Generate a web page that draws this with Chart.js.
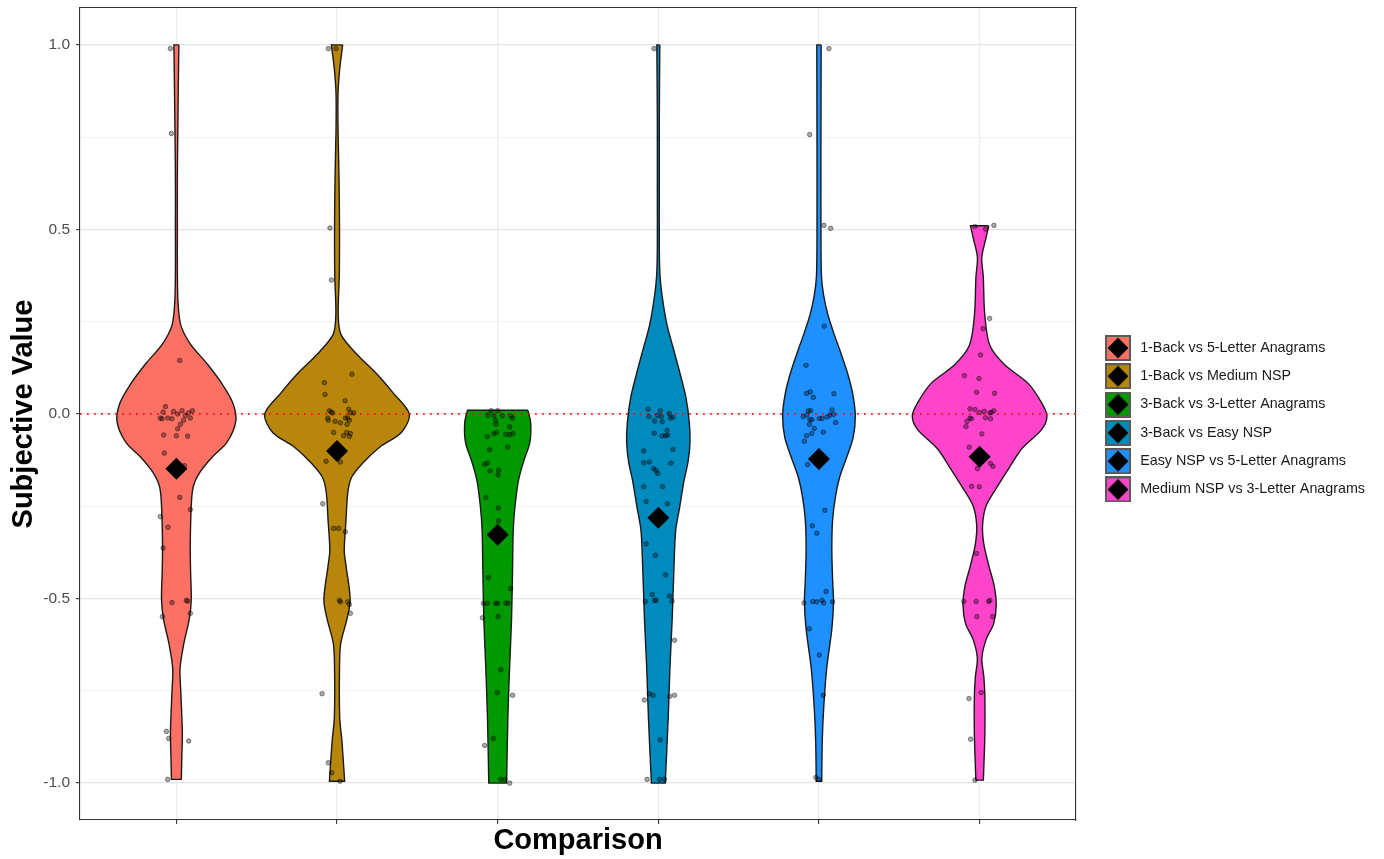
<!DOCTYPE html>
<html>
<head>
<meta charset="utf-8">
<script src="https://cdn.jsdelivr.net/npm/chart.js@4.4.1/dist/chart.umd.min.js"></script>
<style>
  html, body { margin: 0; padding: 0; background: #ffffff; }
  canvas { display: block; }
</style>
</head>
<body>
<canvas id="violins" width="1384" height="859"></canvas>
<script>
// ---- data -------------------------------------------------------------
const categories = [
  '1-Back vs 5-Letter Anagrams',
  '1-Back vs Medium NSP',
  '3-Back vs 3-Letter Anagrams',
  '3-Back vs Easy NSP',
  'Easy NSP vs 5-Letter Anagrams',
  'Medium NSP vs 3-Letter Anagrams'
];
const fillColors = ['#FD7064', '#B8860B', '#009900', '#008BBF', '#1E90FF', '#FF44CC'];

// group means (diamonds)
const meanValues = [-0.148, -0.100, -0.327, -0.281, -0.122, -0.116];

// y-axis ticks (majors labelled, quarter steps as minor grid)
const yTickValues = [-1, -0.75, -0.5, -0.25, 0, 0.25, 0.5, 0.75, 1];
const yTickLabels = ['-1.0', '', '-0.5', '', '0.0', '', '0.5', '', '1.0'];

// kernel density profiles per group: evaluation levels (top to bottom) and relative density
const densityY1 = [1.0, 0.9, 0.78, 0.65, 0.5, 0.38, 0.3, 0.24, 0.19, 0.136, 0.082, 0.03, -0.02, -0.077, -0.117, -0.157, -0.197, -0.25, -0.356, -0.423, -0.503, -0.556, -0.622, -0.689, -0.755, -0.862, -0.928, -0.99];
const densityD1 = [2.5, 2, 1.5, 1, 1, 1, 1.7, 4.5, 14, 31, 46, 57, 60, 51, 36, 24, 17, 15, 14, 14.3, 15, 13, 7.5, 3.7, 4.5, 6, 5.5, 5];

const densityY2 = [1.0, 0.934, 0.867, 0.774, 0.641, 0.508, 0.375, 0.269, 0.215, 0.162, 0.109, 0.056, 0, -0.05, -0.09, -0.13, -0.17, -0.21, -0.29, -0.37, -0.41, -0.503, -0.556, -0.622, -0.689, -0.822, -0.888, -0.995];
const densityD2 = [5.7, 2.7, 1, 1, 2, 2.5, 2.3, 1.2, 4, 20, 40, 57, 73, 65, 43, 27, 15, 11, 9, 7.3, 9, 13.3, 10, 3.7, 2.5, 2.7, 5, 7.7];

const densityY3 = [0.01, -0.024, -0.077, -0.13, -0.18, -0.25, -0.316, -0.423, -0.556, -0.689, -0.822, -1.0];
const densityD3 = [30.5, 33.3, 32.5, 26, 21, 17.5, 15.7, 15, 14, 12, 10.3, 9];

const densityY4 = [1.0, 0.8, 0.6, 0.45, 0.375, 0.322, 0.242, 0.176, 0.109, 0.043, -0.024, -0.077, -0.13, -0.18, -0.25, -0.316, -0.423, -0.556, -0.689, -0.822, -1.0];
const densityD4 = [1.5, 1, 1, 1, 1.7, 3.7, 8.7, 15.3, 22, 28, 31.3, 32, 30, 26, 21.7, 17.5, 15.7, 14, 11.7, 10, 7];

const densityY5 = [1.0, 0.75, 0.5, 0.375, 0.322, 0.269, 0.215, 0.162, 0.109, 0.056, -0.004, -0.064, -0.117, -0.17, -0.223, -0.29, -0.37, -0.45, -0.51, -0.582, -0.689, -0.795, -0.888, -0.995];
const densityD5 = [2.2, 2, 2, 2.5, 4.7, 9, 15.5, 22.5, 29, 34, 36.7, 34.5, 28, 21, 16.7, 13.7, 13, 13.8, 14.7, 13, 7.8, 4.8, 3.3, 2.8];

const densityY6 = [0.51, 0.475, 0.424, 0.372, 0.269, 0.186, 0.134, 0.083, 0.031, -0.005, -0.041, -0.093, -0.145, -0.196, -0.248, -0.3, -0.351, -0.413, -0.465, -0.517, -0.568, -0.61, -0.661, -0.713, -0.764, -0.868, -0.992];
const densityD6 = [9.2, 6.3, 2.2, 3.7, 5.2, 10.3, 25, 49, 62.5, 68, 63, 43, 30, 18, 6.7, 3, 4.2, 9.5, 14.7, 16.8, 14.2, 6.7, 2.3, 4.3, 5.3, 5.3, 3.8];

// individual observations: [horizontal jitter, value]
const jitter1 = [[-0.037,0.99],[-0.031,0.76],[0.021,0.145],[-0.068,0.02],[-0.083,0.005],[-0.1,-0.011],[-0.089,-0.013],[-0.054,-0.011],[-0.027,-0.013],[-0.017,0.007],[0.008,0],[0.035,0.009],[0.056,-0.004],[0.077,0.003],[0.1,0.009],[0.087,-0.011],[0.045,-0.017],[0.025,-0.028],[0.008,-0.04],[0,-0.059],[0.07,-0.06],[-0.079,-0.057],[-0.075,-0.106],[0.05,-0.14],[0.021,-0.226],[-0.1,-0.278],[0.087,-0.259],[-0.052,-0.307],[-0.083,-0.363],[-0.027,-0.511],[0.062,-0.505],[0.07,-0.507],[-0.087,-0.549],[0.087,-0.54],[-0.062,-0.86],[-0.048,-0.879],[0.077,-0.886],[-0.054,-0.99]];
const jitter2 = [[-0.054,0.99],[-0.006,0.99],[-0.044,0.504],[-0.035,0.363],[0.093,0.108],[-0.079,0.085],[-0.075,0.053],[0.05,0.036],[-0.048,0.009],[-0.037,0.005],[-0.027,0.003],[-0.058,-0.011],[-0.054,-0.017],[-0.012,-0.02],[0.021,-0.024],[0.052,-0.011],[0.073,0.013],[0.083,0.003],[0.104,0.003],[0.066,-0.011],[0.077,-0.017],[0.062,-0.028],[0.041,-0.059],[0.06,-0.05],[0.083,-0.053],[0.077,-0.061],[-0.021,-0.05],[-0.068,-0.128],[0.021,-0.13],[-0.089,-0.243],[-0.021,-0.31],[0.01,-0.31],[0.052,-0.319],[0.015,-0.505],[0.021,-0.509],[0.066,-0.509],[0.077,-0.516],[0.083,-0.54],[-0.093,-0.758],[-0.054,-0.945],[-0.033,-0.972],[0.019,-0.995]];
const jitter3 = [[-0.041,0.009],[0,0.009],[-0.06,-0.003],[-0.023,-0.005],[0.029,-0.005],[0.081,-0.005],[0.093,-0.011],[-0.012,-0.017],[-0.01,-0.028],[0.075,-0.035],[-0.023,-0.053],[-0.006,-0.05],[0.05,-0.055],[0.075,-0.056],[0.095,-0.053],[-0.064,-0.061],[-0.05,-0.097],[0.062,-0.09],[-0.064,-0.133],[-0.081,-0.136],[-0.048,-0.154],[0.006,-0.152],[0.002,-0.165],[-0.073,-0.226],[0.004,-0.255],[0.006,-0.29],[-0.058,-0.443],[0.081,-0.473],[-0.089,-0.513],[-0.064,-0.513],[-0.012,-0.513],[0,-0.513],[0.05,-0.512],[0.066,-0.513],[-0.095,-0.552],[0.002,-0.549],[0.019,-0.693],[-0.002,-0.755],[0.093,-0.762],[-0.027,-0.879],[-0.081,-0.898],[0.019,-0.99],[0.045,-0.99],[0.075,-1.0]];
const jitter4 = [[-0.027,0.99],[-0.064,0.013],[0.012,0.009],[0.068,0.001],[-0.058,-0.007],[-0.004,-0.004],[0.019,-0.007],[0.075,-0.011],[0.091,-0.009],[-0.023,-0.019],[0.025,-0.021],[0.054,-0.044],[0.045,-0.059],[0.058,-0.057],[0.023,-0.059],[-0.025,-0.052],[0.091,-0.096],[-0.091,-0.1],[-0.091,-0.132],[-0.056,-0.13],[0.079,-0.133],[-0.029,-0.148],[-0.014,-0.153],[-0.004,-0.161],[-0.091,-0.197],[0.027,-0.197],[-0.075,-0.237],[0.056,-0.243],[-0.075,-0.352],[-0.019,-0.383],[0.045,-0.436],[-0.037,-0.489],[-0.023,-0.505],[-0.014,-0.505],[-0.081,-0.508],[0.07,-0.493],[0.085,-0.507],[0.101,-0.613],[-0.056,-0.758],[-0.033,-0.762],[0.07,-0.765],[0.101,-0.762],[-0.087,-0.775],[0.012,-0.883],[-0.07,-0.99],[0.008,-0.99],[0.039,-0.99]];
const jitter5 = [[0.062,0.99],[-0.058,0.757],[0.031,0.511],[0.073,0.503],[0.033,0.238],[-0.081,0.132],[-0.077,0.056],[-0.054,0.06],[-0.035,0.045],[0.093,0.055],[-0.066,0.009],[-0.052,0.009],[-0.077,-0.003],[-0.098,-0.007],[-0.056,-0.015],[-0.044,-0.015],[-0.06,-0.028],[0.002,-0.012],[0.019,-0.012],[0.05,-0.008],[0.068,-0.003],[0.081,0.011],[0.091,-0.001],[0.104,-0.023],[-0.029,-0.039],[-0.045,-0.053],[-0.077,-0.059],[-0.091,-0.074],[0.027,-0.049],[-0.07,-0.137],[0.037,-0.261],[-0.041,-0.303],[-0.014,-0.323],[-0.093,-0.512],[-0.039,-0.508],[-0.014,-0.509],[0.019,-0.505],[0.029,-0.512],[0.044,-0.481],[0.085,-0.509],[-0.06,-0.582],[0.002,-0.653],[0.027,-0.762],[-0.019,-0.985],[0,-0.99]];
const jitter6 = [[-0.029,0.508],[0.037,0.501],[0.089,0.511],[0.062,0.259],[0.021,0.231],[0.006,0.16],[-0.095,0.104],[-0.004,0.096],[-0.019,0.059],[0.093,0.056],[-0.06,0.014],[-0.029,0.012],[0,0.004],[0.029,0.007],[0.064,0.003],[0.073,0.004],[0.089,0.009],[-0.06,-0.011],[-0.05,-0.013],[0.037,-0.01],[0.068,-0.013],[-0.079,-0.02],[-0.085,-0.034],[0.014,-0.054],[-0.064,-0.09],[-0.014,-0.148],[0.068,-0.134],[0.083,-0.142],[-0.05,-0.196],[-0.002,-0.197],[-0.019,-0.378],[-0.098,-0.508],[-0.021,-0.508],[0.056,-0.508],[0.064,-0.505],[-0.017,-0.549],[0.081,-0.549],[0.01,-0.755],[-0.066,-0.771],[-0.056,-0.881],[-0.029,-0.992]];

// ---- assembly ---------------------------------------------------------
const profiles = [
  [densityY1, densityD1], [densityY2, densityD2], [densityY3, densityD3],
  [densityY4, densityD4], [densityY5, densityD5], [densityY6, densityD6]
];
const jitterSets = [jitter1, jitter2, jitter3, jitter4, jitter5, jitter6];

// violins share one density scale; the widest one spans 0.9 of a category slot
const VIOLIN_HALF = 0.45;
const maxDensity = Math.max(...profiles.flatMap(p => p[1]));

// closed outline: right edge top->bottom, flat bottom, left edge bottom->top, flat top.
// Corner vertices are repeated so the smoothing keeps the trimmed ends square.
function violinOutline(i) {
  const [ys, ds] = profiles[i];
  const c = i + 1;
  const hw = ds.map(d => VIOLIN_HALF * d / maxDensity);
  const n = ys.length;
  const right = ys.map((y, k) => ({ x: c + hw[k], y }));
  const left = ys.map((y, k) => ({ x: c - hw[k], y })).reverse();
  return [
    ...right,
    { ...right[n - 1] },
    { ...left[0] },
    ...left,
    { ...left[n - 1] },
    { ...right[0] }
  ];
}

// legend key: filled square with the mean diamond on top
function legendKey(color) {
  const cv = document.createElement('canvas');
  cv.width = 26; cv.height = 26;
  const g = cv.getContext('2d');
  g.fillStyle = color;
  g.fillRect(1, 1, 24, 24);
  g.strokeStyle = '#5a5a5a';
  g.lineWidth = 2;
  g.strokeRect(1, 1, 24, 24);
  g.fillStyle = '#000000';
  g.beginPath();
  g.moveTo(13, 2.6); g.lineTo(23.4, 13); g.lineTo(13, 23.4); g.lineTo(2.6, 13);
  g.closePath();
  g.fill();
  return cv;
}
const legendKeys = fillColors.map(legendKey);

const violinDatasets = categories.map((name, i) => ({
  type: 'line',
  label: name,
  data: violinOutline(i),
  backgroundColor: fillColors[i],
  borderColor: '#1a1a1a',
  borderWidth: 1.4,
  fill: 'shape',
  tension: 0.3,
  pointRadius: 0,
  pointHoverRadius: 0,
  order: 3
}));

const zeroLine = {
  type: 'line',
  label: 'zero',
  data: [{ x: 0.4, y: 0 }, { x: 6.6, y: 0 }],
  borderColor: '#ff0000',
  borderWidth: 1.6,
  borderDash: [1.8, 5.2],
  pointRadius: 0,
  fill: false,
  order: 2
};

const observations = {
  type: 'line',
  label: 'observations',
  showLine: false,
  data: jitterSets.flatMap((pts, i) => pts.map(([dx, y]) => ({ x: i + 1 + dx, y }))),
  pointRadius: 2.3,
  pointBackgroundColor: 'rgba(0,0,0,0.34)',
  pointBorderColor: 'rgba(0,0,0,0.5)',
  pointBorderWidth: 0.8,
  order: 1
};

const means = {
  type: 'line',
  label: 'mean',
  showLine: false,
  data: meanValues.map((m, i) => ({ x: i + 1, y: m })),
  pointStyle: 'rectRot',
  pointRadius: 11,
  pointBackgroundColor: '#000000',
  pointBorderColor: '#000000',
  pointBorderWidth: 0,
  order: 0
};

const FONT = "'Liberation Sans', Arial, Helvetica, sans-serif";
Chart.defaults.font.family = FONT;

// panel box in page pixels
const PLOT_RIGHT = 1076;
const PLOT_TOP = 8;
let topBand = 8;

const isMajor = v => Boolean(yTickLabels[yTickValues.indexOf(v)]);

const chart = new Chart(document.getElementById('violins'), {
  type: 'line',
  data: { datasets: [...violinDatasets, zeroLine, observations, means] },
  options: {
    responsive: false,
    animation: false,
    devicePixelRatio: 1,
    layout: { autoPadding: false, padding: { left: 0, top: 0, right: 20, bottom: 0 } },
    plugins: {
      tooltip: { enabled: false },
      legend: {
        position: 'right',
        fullSize: false,
        maxWidth: 330,
        onClick: () => {},
        title: { display: true, text: '', font: { size: 9.4, lineHeight: 1 }, padding: 0 },
        labels: {
          usePointStyle: true,
          pointStyleWidth: 30,
          padding: 14,
          color: '#1a1a1a',
          font: { size: 14.3, family: FONT },
          generateLabels: () => categories.map((name, i) => ({
            text: name,
            pointStyle: legendKeys[i],
            rotation: 0,
            fillStyle: fillColors[i],
            strokeStyle: '#000000',
            fontColor: '#1a1a1a',
            lineWidth: 0,
            hidden: false,
            datasetIndex: i
          }))
        }
      }
    },
    scales: {
      x: {
        type: 'linear',
        position: 'bottom',
        min: 0.4,
        max: 6.6,
        afterBuildTicks: s => { s.ticks = categories.map((_, i) => ({ value: i + 1 })); },
        afterFit: s => { s.height = 39; s.paddingLeft = 0; s.paddingRight = 0; },
        ticks: { display: false, autoSkip: false },
        grid: { color: '#ebebeb', lineWidth: 1.2, tickColor: '#333333', tickLength: 4, tickWidth: 1.1 },
        border: { display: true, color: '#333333', width: 1.1 },
        title: {
          display: true,
          text: 'Comparison',
          color: '#000000',
          font: { size: 29, weight: 'bold', family: FONT },
          padding: { top: 0, bottom: 0.5 }
        }
      },
      y: {
        type: 'linear',
        position: 'left',
        min: -1.1,
        max: 1.1,
        afterBuildTicks: s => { s.ticks = yTickValues.map(v => ({ value: v })); },
        afterFit: s => { s.width = 80; s.paddingTop = 0; s.paddingBottom = 0; },
        ticks: {
          autoSkip: false,
          color: '#4d4d4d',
          padding: 6,
          font: { size: 15.5, family: FONT },
          callback: (value) => {
            const k = yTickValues.findIndex(v => Math.abs(v - value) < 1e-9);
            return k >= 0 ? yTickLabels[k] : '';
          }
        },
        grid: {
          color: c => (isMajor(c.tick.value) ? '#e4e4e4' : '#f0f0f0'),
          lineWidth: c => (isMajor(c.tick.value) ? 1.2 : 0.9),
          tickColor: c => (isMajor(c.tick.value) ? '#333333' : 'rgba(0,0,0,0)'),
          tickLength: 4,
          tickWidth: 1.1
        },
        border: { display: true, color: '#333333', width: 1.1 },
        title: {
          display: true,
          text: 'Subjective Value',
          color: '#000000',
          font: { size: 29, weight: 'bold', family: FONT },
          padding: { top: 6.6, bottom: 0 }
        }
      },
      xTop: {
        type: 'linear',
        position: 'top',
        display: true,
        min: 0, max: 1,
        afterFit: s => { s.height = topBand; s.paddingLeft = 0; s.paddingRight = 0; },
        ticks: { display: false },
        grid: { display: true, drawOnChartArea: false, drawTicks: false },
        border: { display: true, color: '#333333', width: 1.1 }
      },
      yRight: {
        type: 'linear',
        position: 'right',
        display: true,
        min: 0, max: 1,
        afterFit: s => { s.width = 13; s.paddingTop = 0; s.paddingBottom = 0; },
        ticks: { display: false },
        grid: { display: true, drawOnChartArea: false, drawTicks: false },
        border: { display: true, color: '#333333', width: 1.1 }
      }
    }
  }
});

// pin the panel's top and right edges; the legend sits beside the panel
for (let pass = 0; pass < 4; pass++) {
  const shiftR = chart.chartArea.right - PLOT_RIGHT;
  const shiftT = chart.chartArea.top - PLOT_TOP;
  if (Math.abs(shiftR) < 0.25 && Math.abs(shiftT) < 0.25) break;
  chart.options.layout.padding.right += shiftR;
  topBand = Math.max(0, topBand - shiftT);
  chart.update();
}
</script>
</body>
</html>
